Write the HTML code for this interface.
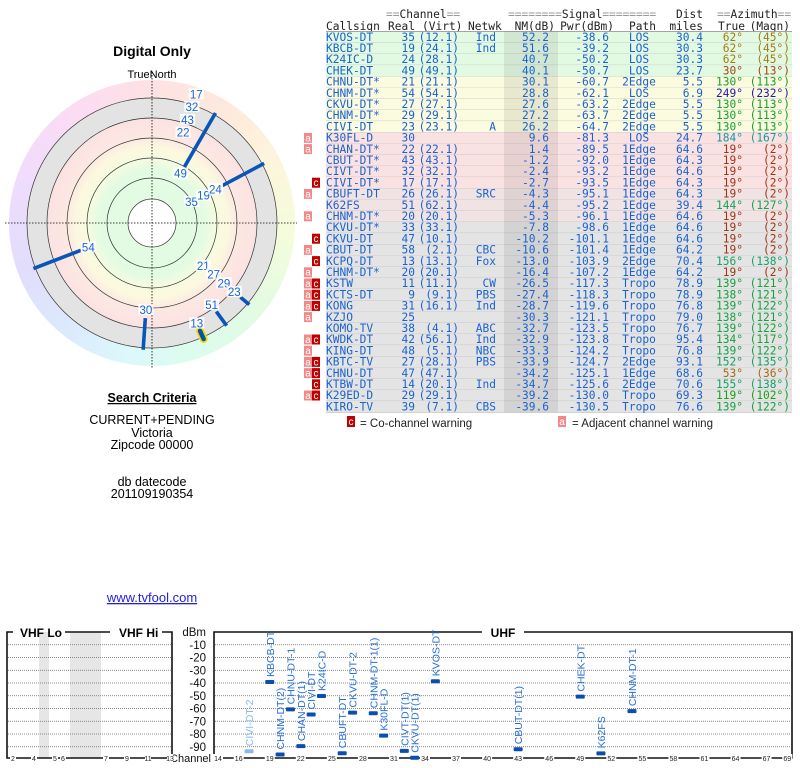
<!DOCTYPE html>
<html><head><meta charset="utf-8">
<style>
html,body{margin:0;padding:0;background:#fff;}
#wrap{position:relative;width:800px;height:768px;overflow:hidden;}
#ring{position:absolute;left:9px;top:80px;width:286px;height:286px;border-radius:50%;
background:conic-gradient(from 0deg,#fde2e2 0deg,#fde8dd 30deg,#fdf4dc 60deg,#f4fcdc 95deg,#e2fbe2 130deg,#dcfcef 165deg,#dcf8fc 190deg,#dce9fc 220deg,#e2ddfc 250deg,#f0dcfc 290deg,#fcdcf2 330deg,#fde2e2 360deg);}
svg{position:absolute;left:0;top:0;}
text{font-family:"Liberation Sans",sans-serif;}
.mono{font-family:"DejaVu Sans Mono","Liberation Mono",monospace;font-size:11.2px;}
</style></head>
<body>
<div id="wrap">
<div id="ring"></div>
<svg id="svg" width="800" height="768" xmlns="http://www.w3.org/2000/svg">
  <text x="152" y="56" font-size="14" font-weight="bold" text-anchor="middle">Digital Only</text>
  <text x="152" y="78" font-size="11" text-anchor="middle">TrueNorth</text>
  <g id="polar"></g>
  <text x="152" y="402" font-size="12.5" font-weight="bold" text-anchor="middle" text-decoration="underline">Search Criteria</text>
  <text x="152" y="424" font-size="12.5" text-anchor="middle">CURRENT+PENDING</text>
  <text x="152" y="437" font-size="12.5" text-anchor="middle">Victoria</text>
  <text x="152" y="449" font-size="12.5" text-anchor="middle">Zipcode 00000</text>
  <text x="152" y="486" font-size="12.5" text-anchor="middle">db datecode</text>
  <text x="152" y="498" font-size="12.5" text-anchor="middle">201109190354</text>
  <text x="152" y="602" font-size="13" fill="#2222dd" text-anchor="middle" text-decoration="underline">www.tvfool.com</text>
  <g id="table"></g>
  <g id="spec"></g>
</svg>
</div>
<script>
// ---------- table data ----------
const callsigns=["KVOS-DT","KBCB-DT","K24IC-D","CHEK-DT","CHNU-DT*","CHNM-DT*","CKVU-DT*","CHNM-DT*","CIVI-DT","K30FL-D","CHAN-DT*","CBUT-DT*","CIVT-DT*","CIVI-DT*","CBUFT-DT","K62FS","CHNM-DT*","CKVU-DT*","CKVU-DT","CBUT-DT","KCPQ-DT","CHNM-DT*","KSTW","KCTS-DT","KONG","KZJO","KOMO-TV","KWDK-DT","KING-DT","KBTC-TV","CHNU-DT","KTBW-DT","K29ED-D","KIRO-TV"];
const realCh=[35,19,24,49,21,54,27,29,23,30,22,43,32,17,26,51,20,33,47,58,13,20,11,9,31,25,38,42,48,27,47,14,29,39];
const virtCh=["12.1","24.1","28.1","49.1","21.1","54.1","27.1","29.1","23.1","","22.1","43.1","32.1","17.1","26.1","62.1","20.1","33.1","10.1","2.1","13.1","20.1","11.1","9.1","16.1","","4.1","56.1","5.1","28.1","47.1","20.1","29.1","7.1"];
const netwk=["Ind","Ind","","","","","","","A","","","","","","SRC","","","","","CBC","Fox","","CW","PBS","Ind","","ABC","Ind","NBC","PBS","","Ind","","CBS"];
const nmDb=[52.2,51.6,40.7,40.1,30.1,28.8,27.6,27.2,26.2,9.6,1.4,-1.2,-2.4,-2.7,-4.3,-4.4,-5.3,-7.8,-10.2,-10.6,-13.0,-16.4,-26.5,-27.4,-28.7,-30.3,-32.7,-32.9,-33.3,-33.9,-34.2,-34.7,-39.2,-39.6];
const pwrDbm=[-38.6,-39.2,-50.2,-50.7,-60.7,-62.1,-63.2,-63.7,-64.7,-81.3,-89.5,-92.0,-93.2,-93.5,-95.1,-95.2,-96.1,-98.6,-101.1,-101.4,-103.9,-107.2,-117.3,-118.3,-119.6,-121.1,-123.5,-123.8,-124.2,-124.7,-125.1,-125.6,-130.0,-130.5];
const paths=["LOS","LOS","LOS","LOS","2Edge","LOS","2Edge","2Edge","2Edge","LOS","1Edge","1Edge","1Edge","1Edge","1Edge","1Edge","1Edge","1Edge","1Edge","1Edge","2Edge","1Edge","Tropo","Tropo","Tropo","Tropo","Tropo","Tropo","Tropo","2Edge","1Edge","2Edge","Tropo","Tropo"];
const distMi=["30.4","30.3","30.3","23.7","5.5","6.9","5.5","5.5","5.5","24.7","64.6","64.3","64.6","64.3","64.3","39.4","64.6","64.6","64.6","64.2","70.4","64.2","78.9","78.9","76.8","79.0","76.7","95.4","76.8","93.1","68.6","70.6","69.3","76.6"];
const azTrue=[62,62,62,30,130,249,130,130,130,184,19,19,19,19,19,144,19,19,19,19,156,19,139,138,139,138,139,134,139,152,53,155,119,139];
const azMagn=[45,45,45,13,113,232,113,113,113,167,2,2,2,2,2,127,2,2,2,2,138,2,121,121,122,121,122,117,122,135,36,138,102,122];
const adjWarn=[0,0,0,0,0,0,0,0,0,1,1,0,0,0,1,0,1,0,0,1,0,1,1,1,1,1,0,1,1,1,1,0,1,0];
const coWarn=[0,0,0,0,0,0,0,0,0,0,0,0,0,1,0,0,0,0,1,0,1,0,1,1,1,0,0,1,0,1,1,1,1,0];

// ---------- polar data ----------
const polarCh=[35,19,24,49,21,54,27,29,23,30,22,43,32,17,51,13];
const polarAz=[62,62,62,30,130,249,130,130,130,184,19,19,19,19,144,156];
const polarNM=[52.2,51.6,40.7,40.1,30.1,28.8,27.6,27.2,26.2,9.6,1.4,-1.2,-2.4,-2.7,-4.4,-13.0];
const polarLine=[0,0,1,1,0,1,0,0,1,1,0,0,0,0,1,1];

// ---------- spectrum data ----------
const specLabels=["CIVI-DT-2","KBCB-DT","CHNM-DT(2)","CHNU-DT-1","CHAN-DT(1)","CIVI-DT","K24IC-D","CBUFT-DT","CKVU-DT-2","CHNM-DT-1(1)","K30FL-D","CIVT-DT(1)","CKVU-DT(1)","KVOS-DT","CBUT-DT(1)","CHEK-DT","K62FS","CHNM-DT-1"];
const specCh=[17,19,20,21,22,23,24,26,27,29,30,32,33,35,43,49,51,54];
const specDbm=[-93.5,-39.2,-96.1,-60.7,-89.5,-64.7,-50.2,-95.1,-63.2,-63.7,-81.3,-93.2,-98.6,-38.6,-92.0,-50.7,-95.2,-62.1];
const specFaded=[1,0,0,0,0,0,0,0,0,0,0,0,0,0,0,0,0,0];
const dbmTicks=[-10,-20,-30,-40,-50,-60,-70,-80,-90];
const uhfTicks=[14,16,19,22,25,28,31,34,37,40,43,46,49,52,55,58,61,64,67,69];
const vhfTicks=["2","4","5","6","7","9","11","13"];
const vhfTickX=[13,34,55,63,106,127,148,170];

const NS="http://www.w3.org/2000/svg";
function mk(tag,attrs,parent,txt){const e=document.createElementNS(NS,tag);for(const k in attrs)e.setAttribute(k,attrs[k]);if(txt!==undefined)e.textContent=txt;parent.appendChild(e);return e;}

// ================= TABLE =================
const T=document.getElementById('table');
const rowH=11.2, row0=31.5;
function rowY(i){return row0+i*rowH;}
function rowBg(nm){if(nm>=35)return"#e2fae2";if(nm>=20)return"#fbfbe0";if(nm>=-3)return"#fbe2e2";if(nm>=-6)return"#f1e3e3";return"#e4e4e4";}
function azColor(a){const h=a<70?a*0.7:a;return"hsl("+h+",75%,36%)";}
// headers
function hdr(x,y,s,anchor,fill){const t=mk('text',{x:x,y:y,'class':'mono','text-anchor':anchor||'start',fill:fill||'#222'},T,s);return t;}
function eqHdr(x1,word,x2,y,n){const g=mk('text',{x:x1,y:y,'class':'mono',fill:'#222'},T);mk('tspan',{fill:'#999'},g,'='.repeat(n));mk('tspan',{},g,word);mk('tspan',{fill:'#999'},g,'='.repeat(n));}
eqHdr(386,'Channel',0,18,2);
eqHdr(508,'Signal',0,18,8);
hdr(703,18,'Dist','end');
eqHdr(717,'Azimuth',0,18,2);
hdr(326,30,'Callsign');hdr(388,30,'Real');hdr(422,30,'(Virt)');hdr(468,30,'Netwk');
hdr(555,30,'NM(dB)','end');hdr(614,30,'Pwr(dBm)','end');hdr(629,30,'Path');hdr(703,30,'miles','end');
hdr(718,30,'True');hdr(790,30,'(Magn)','end');
for(let i=0;i<callsigns.length;i++){
  const y=rowY(i);
  const r=mk('rect',{x:326,y:y,width:466,height:rowH,fill:rowBg(nmDb[i])},T);
  
  
  mk('line',{x1:326,x2:792,y1:y+rowH,y2:y+rowH,stroke:'#b8b8b8','stroke-width':0.6},T);
}
mk('line',{x1:326,x2:792,y1:row0,y2:row0,stroke:'#888','stroke-width':0.8},T);
const shade=mk('rect',{x:504,y:row0,width:54,height:rowH*callsigns.length,fill:'rgba(0,0,0,0.075)'},T);


const blue="#1a62d0";
for(let i=0;i<callsigns.length;i++){
  const b=rowY(i)+9.3;
  const g=mk('g',{},T);
  
  
  function c(x,s,anchor,fill){mk('text',{x:x,y:b,'class':'mono','text-anchor':anchor||'start',fill:fill||blue},g,s);}
  c(326,callsigns[i]);
  c(415,String(realCh[i]),'end');
  if(virtCh[i])c(459,'('+virtCh[i]+')','end');
  if(netwk[i])c(496,netwk[i],'end');
  c(549,nmDb[i].toFixed(1),'end');
  c(609,pwrDbm[i].toFixed(1),'end');
  c(639,paths[i],'middle');
  c(703,distMi[i],'end');
  c(743,azTrue[i]+'°','end',azColor(azTrue[i]));
  c(790,'('+azMagn[i]+'°)','end',azColor(azTrue[i]));
  if(adjWarn[i]){
    const a=mk('rect',{x:304,y:rowY(i)+0.6,width:8,height:10,fill:'#f08a8a'},T);
    
    
    mk('text',{x:308,y:rowY(i)+9,'font-size':10,fill:'#fff','text-anchor':'middle'},T,'a');
  }
  if(coWarn[i]){
    const a=mk('rect',{x:312,y:rowY(i)+0.6,width:8,height:10,fill:'#c00000'},T);
    
    
    mk('text',{x:316,y:rowY(i)+9,'font-size':10,fill:'#fff','text-anchor':'middle'},T,'c');
  }
}
// legend
mk('rect',{x:347,y:416,width:8,height:11,fill:'#c00000'},T);
mk('text',{x:351,y:425,'font-size':10,fill:'#fff','text-anchor':'middle'},T,'c');
const l1=mk('text',{x:360,y:427,'font-size':11.5,fill:'#222'},T,'= Co-channel warning');


mk('rect',{x:558,y:416,width:8,height:11,fill:'#f08a8a'},T);
mk('text',{x:562,y:425,'font-size':10,fill:'#fff','text-anchor':'middle'},T,'a');
const l2=mk('text',{x:572,y:427,'font-size':11.5,fill:'#222'},T,'= Adjacent channel warning');



// ================= POLAR =================
const P=document.getElementById('polar');
const cx=152,cy=223;
const defs=mk('defs',{},P);
const rg=mk('radialGradient',{id:'zones',cx:cx,cy:cy,r:105,gradientUnits:'userSpaceOnUse'},defs);
[[0.2,'#e2fbe2'],[0.5,'#e3fbe3'],[0.62,'#f6fbe0'],[0.72,'#fcf8e0'],[0.82,'#fce8e2'],[1,'#fbe2e2']].forEach(s=>mk('stop',{offset:s[0],'stop-color':s[1]},rg));
mk('circle',{cx:cx,cy:cy,r:125,fill:'#e3e3e3',stroke:'#333','stroke-width':0.7},P);
mk('circle',{cx:cx,cy:cy,r:105,fill:'url(#zones)',stroke:'#333','stroke-width':0.7},P);
[85,65,45].forEach(r=>mk('circle',{cx:cx,cy:cy,r:r,fill:'none',stroke:'#333','stroke-width':0.7},P));
mk('circle',{cx:cx,cy:cy,r:24,fill:'#fff',stroke:'#333','stroke-width':0.7},P);
mk('line',{x1:5,x2:297,y1:cy,y2:cy,stroke:'#000','stroke-width':0.8,'stroke-dasharray':'1.5,1.5'},P);
mk('line',{x1:cx,x2:cx,y1:72,y2:368,stroke:'#000','stroke-width':0.8,'stroke-dasharray':'1.5,1.5'},P);
function rOf(nm){return 97-nm;}
function pt(az,r){const a=az*Math.PI/180;return[cx+r*Math.sin(a),cy-r*Math.cos(a)];}
const placed=[];
const labR=[];
for(let i=0;i<polarCh.length;i++){
  let r=rOf(polarNM[i]);
  let moved=true;
  while(moved){moved=false;for(const p of placed){if(Math.abs(p.az-polarAz[i])<8&&Math.abs(p.r-r)<13.5){r=p.r+13.5;moved=true;}}}
  placed.push({az:polarAz[i],r:r});labR.push(r);
}
for(let i=0;i<polarCh.length;i++){
  if(!polarLine[i])continue;
  const a=pt(polarAz[i],labR[i]+8),b=pt(polarAz[i],127);
  if(polarCh[i]===13){
    mk('line',{x1:a[0],y1:a[1],x2:b[0],y2:b[1],stroke:'#f0e000','stroke-width':8,'stroke-linecap':'round'},P);
    mk('line',{x1:a[0],y1:a[1],x2:b[0],y2:b[1],stroke:'#0a50b0','stroke-width':4.5,'stroke-linecap':'round'},P);
  }else{
    const ln=mk('line',{x1:a[0],y1:a[1],x2:b[0],y2:b[1],stroke:'#0a55b8','stroke-width':3.6},P);
    
    
  }
}
for(let i=0;i<polarCh.length;i++){
  const p=pt(polarAz[i],labR[i]);
  const s=String(polarCh[i]);
  mk('rect',{x:p[0]-s.length*3.3-1,y:p[1]-6,width:s.length*6.6+2,height:11,fill:'#fff',opacity:0.85},P);
  const t=mk('text',{x:p[0],y:p[1]+4,'font-size':11.5,fill:'#1a66d2','text-anchor':'middle'},P,s);
  
  
}

// ================= SPECTRUM =================
const S=document.getElementById('spec');
const yTop=632,yBot=758;
function yD(d){return yTop+(-d)*1.275;}
function xU(ch){return 218+(ch-14)*10.35;}
// gray stripes
mk('rect',{x:39,y:yTop,width:10,height:yBot-yTop,fill:'#e6e6e6'},S);
mk('rect',{x:70,y:yTop,width:31,height:yBot-yTop,fill:'#e6e6e6'},S);
// grid
for(const d of dbmTicks){
  const y=yD(d);
  mk('line',{x1:8,x2:172,y1:y,y2:y,stroke:'#666','stroke-width':0.8,'stroke-dasharray':'1,1'},S);
  mk('line',{x1:215,x2:791,y1:y,y2:y,stroke:'#666','stroke-width':0.8,'stroke-dasharray':'1,1'},S);
  const t=mk('text',{x:206,y:y+4,'font-size':11.5,'text-anchor':'end',fill:'#111'},S,String(d));
  
  
}
mk('text',{x:206,y:636,'font-size':11.5,'text-anchor':'end',fill:'#111'},S,'dBm');
// VHF box
const bw={stroke:'#111','stroke-width':1.6,fill:'none'};
mk('path',Object.assign({d:'M13,632 H7 V758 H172 V632 H162 M110,632 H65'},bw),S);
mk('text',{x:20,y:637,'font-size':12,'font-weight':'bold'},S,'VHF Lo');
mk('text',{x:119,y:637,'font-size':12,'font-weight':'bold'},S,'VHF Hi');
// UHF box
mk('path',Object.assign({d:'M482,632 H214 V758 H792 V632 H524'},bw),S);
mk('text',{x:503,y:637,'font-size':12,'font-weight':'bold','text-anchor':'middle'},S,'UHF');
mk('text',{x:211,y:762,'font-size':11,'text-anchor':'end',fill:'#111'},S,'Channel');
// tick labels
for(let i=0;i<vhfTicks.length;i++){
  const x=vhfTickX[i];
  mk('rect',{x:x-3,y:754,width:6,height:8,fill:'#fff'},S);
  mk('text',{x:x,y:761,'font-size':7,'text-anchor':'middle',fill:'#222'},S,vhfTicks[i]);
}
for(const ch of uhfTicks){
  const x=xU(ch);
  mk('rect',{x:x-5,y:754,width:10,height:8,fill:'#fff'},S);
  mk('text',{x:x,y:761,'font-size':7,'text-anchor':'middle',fill:'#222'},S,String(ch));
}
// markers
for(let i=0;i<specCh.length;i++){
  const x=xU(specCh[i]),y=yD(specDbm[i]);
  const col=specFaded[i]?'#8ab8ea':'#0a4fb0';
  const bar=mk('rect',{x:x-4.5,y:y-2,width:9,height:4,fill:col,rx:1},S);
  
  
  const t=mk('text',{x:0,y:0,'font-size':10.5,fill:specFaded[i]?'#8ab8ea':'#2a6fd8',transform:'translate('+(x+4)+','+(y-5)+') rotate(-90)'},S,specLabels[i]);
  
  
}
</script>
</body></html>
